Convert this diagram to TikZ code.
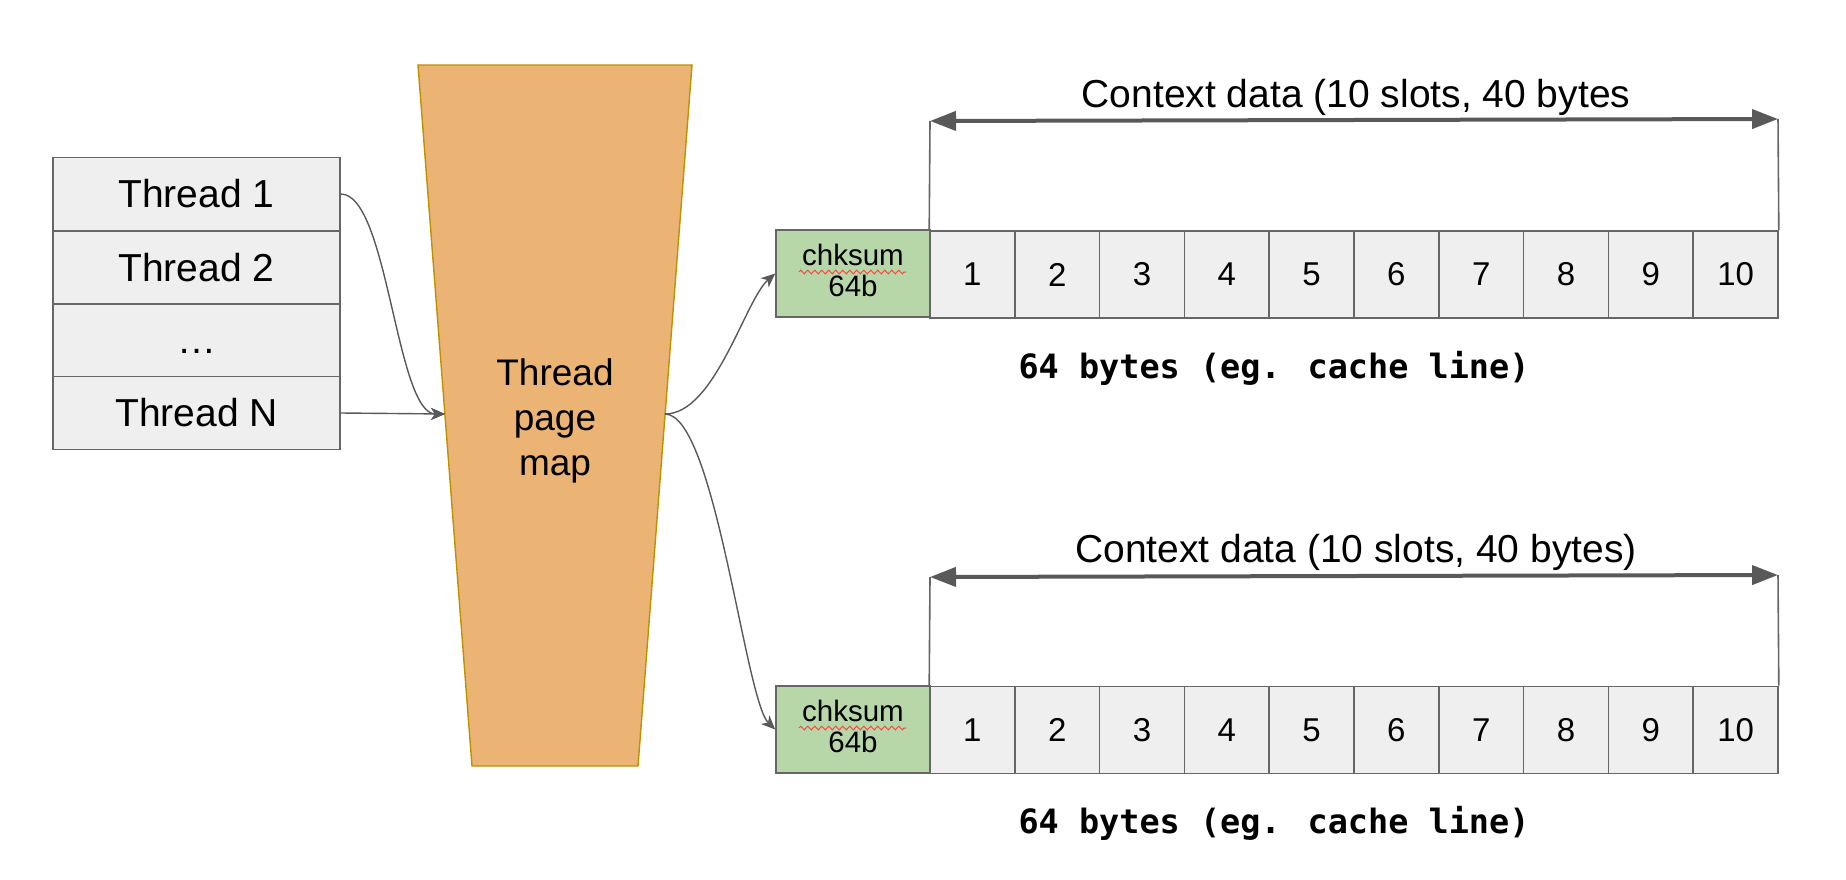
\documentclass[tikz,border=0pt]{standalone}
\usepackage{fontspec}
\setmainfont{Liberation Sans}
\newfontfamily\monob{DejaVu Sans Mono}
\usetikzlibrary{arrows.meta,decorations.pathmorphing}
\definecolor{cellgray}{HTML}{EFEFEF}
\definecolor{edgegray}{HTML}{666666}
\definecolor{arrowgray}{HTML}{595959}
\definecolor{trapfill}{HTML}{EBB474}
\definecolor{trapedge}{HTML}{BF9000}
\definecolor{chkgreen}{HTML}{B7D7A8}
\begin{document}
\begin{tikzpicture}[x=1pt,y=-1pt,
  thr/.style={draw=edgegray,fill=cellgray,line width=1.6pt,minimum width=287pt,minimum height=73pt,inner sep=0pt,font=\fontsize{39}{45}\selectfont},
  cellbox/.style={draw=edgegray,fill=cellgray,line width=1.6pt,minimum width=84.8pt,minimum height=87pt,inner sep=0pt,font=\fontsize{33}{36}\selectfont},
  chkbox/.style={draw=edgegray,fill=chkgreen,line width=1.6pt,minimum width=154pt,minimum height=87pt,inner sep=0pt},
  chktext/.style={align=center,inner sep=0pt,font=\fontsize{29.5}{31}\selectfont},
  conn/.style={draw=arrowgray,line width=1.4pt,-{Stealth[length=14pt,width=12pt,inset=4pt]}},
  ctxarrow/.style={draw=arrowgray,line width=4pt,{Triangle[length=26pt,width=19pt]}-{Triangle[length=26pt,width=19pt]}},
  bracket/.style={draw=edgegray,line width=1.6pt},
  ctxlabel/.style={font=\fontsize{39}{45}\selectfont,inner sep=0pt},
  byteslabel/.style={font=\monob\bfseries\fontsize{33.5}{38}\selectfont,inner sep=0pt},
  squiggle/.style={draw=red!75!white,line width=1pt,decorate,decoration={zigzag,amplitude=1.8pt,segment length=7pt}}
]
\useasboundingbox (0,0) rectangle (1846,880);

% thread page map
\fill[trapfill,draw=trapedge,line width=1.4pt] (418,65) -- (692,65) -- (638,766) -- (472,766) -- cycle;
\node[align=center,font=\fontsize{37}{45}\selectfont,inner sep=0pt] (tpm) at (555,421) {Thread\\page\\map};
\coordinate (tpmL) at (445,414);
\coordinate (tpmR) at (665,414);

% thread table
\node[thr] (t1) at (196.5,194) {Thread 1};
\node[thr] (t2) at (196.5,267.5) {Thread 2};
\node[thr] (t3) at (196.5,340.5) {};
\node[inner sep=0pt,font=\fontsize{39}{45}\selectfont] (t3dots) at (196.5,351) {\dots};
\node[thr] (tN) at (196.5,413) {Thread N};

% memory rows
\node[chkbox] (chkA) at (853,273.5) {};
\node[chkbox] (chkB) at (853,729.5) {};
\node[chktext] (chkAtxt) at (853,270) {chksum\\64b};
\node[chktext] (chkBtxt) at (853,726) {chksum\\64b};
\foreach \i in {1,...,10}{
  \node[cellbox] (cA\i) at ({930+84.8*(\i-0.5)},274.5) {\i};
  \node[cellbox] (cB\i) at ({930+84.8*(\i-0.5)},730) {\i};
}
\coordinate (sqA1) at (799,272);
\coordinate (sqA2) at (906,272);
\coordinate (sqB1) at (799,728);
\coordinate (sqB2) at (906,728);
\draw[squiggle] (sqA1) -- (sqA2);
\draw[squiggle] (sqB1) -- (sqB2);

% context data brackets
\coordinate (ctxAl) at (930,121);
\coordinate (ctxAr) at (1778,119);
\coordinate (ctxBl) at (930,577);
\coordinate (ctxBr) at (1778,575);
\draw[bracket] (cA1.north west) -- (ctxAl);
\draw[bracket] (cA10.north east) -- (ctxAr);
\draw[ctxarrow] (ctxAl) -- (ctxAr);
\draw[bracket] (cB1.north west) -- (ctxBl);
\draw[bracket] (cB10.north east) -- (ctxBr);
\draw[ctxarrow] (ctxBl) -- (ctxBr);
\node[ctxlabel] (ctxA) at (1356,97) {Context data (10 slots, 40 bytes};
\node[ctxlabel] (ctxB) at (1356,552) {Context data (10 slots, 40 bytes)};
\node[byteslabel] (bytesA) at (1274,368) {64 bytes (eg. cache line)};
\node[byteslabel] (bytesB) at (1274,823) {64 bytes (eg. cache line)};

% connectors
\draw[conn] (t1.east) .. controls (388,194) and (396,414) .. (tpmL);
\draw[conn] (tN.east) -- (tpmL);
\draw[conn] (tpmR) .. controls (715,414) and (745,300) .. (chkA.west);
\draw[conn] (tpmR) .. controls (715,414) and (745,700) .. (chkB.west);
\end{tikzpicture}
\end{document}
